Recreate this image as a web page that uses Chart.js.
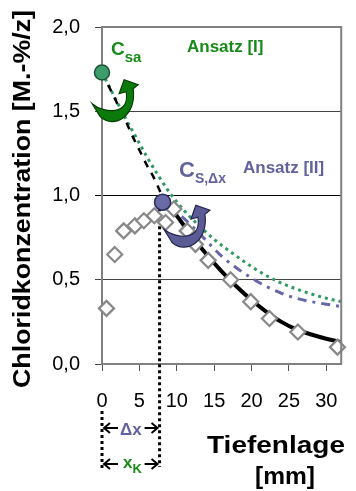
<!DOCTYPE html>
<html>
<head>
<meta charset="utf-8">
<script src="https://cdn.jsdelivr.net/npm/chart.js@4.4.0/dist/chart.umd.min.js"></script>
<style>
  html, body { margin: 0; padding: 0; background: #fff; }
</style>
</head>
<body>
<canvas id="chart" width="356" height="491"></canvas>
<script>
// Messwerte (Rauten)
const depthMeasured = [0.6, 1.7, 2.9, 4.4, 5.6, 7.0, 8.5, 9.6, 11.4, 12.5, 14.2, 17.2, 19.9, 22.4, 26.2, 31.5];
const chlorideMeasured = [0.33, 0.65, 0.79, 0.82, 0.85, 0.88, 0.84, 0.92, 0.79, 0.71, 0.615, 0.50, 0.37, 0.27, 0.19, 0.10];

// Regressionskurve, gestrichelter Teil (0 bis dx) und durchgezogener Teil
const fitDashedX = [0, 1, 2, 3, 4, 5, 6, 7, 8.1];
const fitDashedY = [1.73, 1.64, 1.55, 1.46, 1.36, 1.27, 1.18, 1.10, 0.99];
const fitSolidX = [8.1, 10, 12, 14, 16, 18, 20, 22, 24, 26, 28, 30, 32];
const fitSolidY = [0.99, 0.88, 0.76, 0.65, 0.55, 0.46, 0.38, 0.31, 0.25, 0.205, 0.175, 0.15, 0.13];

// Ansatz [I] (gruen gepunktet)
const ansatz1X = [0, 1.5, 3, 4.5, 6, 7.5, 9, 11, 13, 15, 18, 21, 24, 27, 30, 32];
const ansatz1Y = [1.73, 1.60, 1.47, 1.35, 1.23, 1.12, 1.02, 0.91, 0.82, 0.74, 0.64, 0.55, 0.48, 0.43, 0.39, 0.37];

// Ansatz [II] (violett strichpunktiert)
const ansatz2X = [8.1, 10, 12, 14, 16, 18, 20, 22, 24, 26, 28, 30, 32];
const ansatz2Y = [0.96, 0.90, 0.82, 0.73, 0.64, 0.57, 0.51, 0.46, 0.42, 0.39, 0.37, 0.355, 0.34];

// Randwerte
const csaPoint = [0, 1.73];
const csdxPoint = [8.1, 0.96];
const dxDepth = 7.7;

const yTicks = [0, 0.5, 1.0, 1.5, 2.0];
const xTicks = [0, 5, 10, 15, 20, 25, 30];

const GREEN = '#178a17';
const PURPLE = '#62629e';
const FONT = "'Liberation Sans', Arial, sans-serif";

function toXY(xs, ys) {
    return xs.map((x, i) => ({ x: x, y: ys[i] }));
}

function stretchText(ctx, text, x, y, width, font, color, angle) {
    ctx.save();
    ctx.translate(x, y);
    ctx.rotate(angle || 0);
    ctx.font = font;
    const w = ctx.measureText(text).width;
    ctx.scale(width / w, 1);
    ctx.fillStyle = color;
    ctx.textAlign = 'center';
    ctx.textBaseline = 'alphabetic';
    ctx.fillText(text, 0, 0);
    ctx.restore();
}

function subText(ctx, main, sub, x, y, mainSize, subSize, drop, color) {
    ctx.save();
    ctx.fillStyle = color;
    ctx.textAlign = 'left';
    ctx.textBaseline = 'alphabetic';
    ctx.font = 'bold ' + mainSize + 'px ' + FONT;
    ctx.fillText(main, x, y);
    const w = ctx.measureText(main).width;
    ctx.font = 'bold ' + subSize + 'px ' + FONT;
    ctx.fillText(sub, x + w, y + drop);
    ctx.restore();
}

function curvedArrow(ctx, tx, ty, fill, edge) {
    ctx.save();
    ctx.translate(tx, ty);
    ctx.beginPath();
    ctx.moveTo(0, 0);
    ctx.bezierCurveTo(12, 10, 38, 12, 34, -12);
    ctx.lineTo(27, -10);
    ctx.lineTo(32, -24);
    ctx.lineTo(46, -19);
    ctx.lineTo(41, -15);
    ctx.bezierCurveTo(45, 12, 22, 26, 8, 13);
    ctx.closePath();
    ctx.fillStyle = fill;
    ctx.fill();
    ctx.strokeStyle = edge;
    ctx.lineWidth = 1.2;
    ctx.stroke();
    ctx.restore();
}

function dimArrow(ctx, y, x0, x1) {
    ctx.save();
    ctx.strokeStyle = '#000';
    ctx.lineWidth = 2;
    ctx.beginPath();
    ctx.moveTo(x0 + 2, y); ctx.lineTo(x0 + 16, y);
    ctx.moveTo(x0 + 8, y - 5); ctx.lineTo(x0 + 2, y); ctx.lineTo(x0 + 8, y + 5);
    ctx.moveTo(x1 - 2, y); ctx.lineTo(x1 - 15, y);
    ctx.moveTo(x1 - 8, y - 5); ctx.lineTo(x1 - 2, y); ctx.lineTo(x1 - 8, y + 5);
    ctx.stroke();
    ctx.restore();
}

const decorations = {
    id: 'decorations',
    beforeDatasetsDraw(chart) {
        const ctx = chart.ctx;
        const xs = chart.scales.x, ys = chart.scales.y;
        const x0 = xs.getPixelForValue(0);
        const x1 = xs.getPixelForValue(dxDepth);
        ctx.save();
        ctx.strokeStyle = '#000';
        ctx.lineWidth = 3;
        ctx.setLineDash([3, 3]);
        ctx.beginPath();
        ctx.moveTo(x1, ys.getPixelForValue(csdxPoint[1]));
        ctx.lineTo(x1, 467);
        ctx.moveTo(x0, 411);
        ctx.lineTo(x0, 471);
        ctx.stroke();
        ctx.restore();
    },
    afterDatasetsDraw(chart) {
        const ctx = chart.ctx;
        const a = chart.chartArea;
        const xs = chart.scales.x, ys = chart.scales.y;

        // Rahmen oben und rechts
        ctx.save();
        ctx.strokeStyle = '#808080';
        ctx.lineWidth = 2;
        ctx.beginPath();
        ctx.moveTo(a.left, a.top);
        ctx.lineTo(a.right, a.top);
        ctx.lineTo(a.right, a.bottom);
        ctx.stroke();
        ctx.restore();

        // gebogene Pfeile
        curvedArrow(ctx, xs.getPixelForValue(-1.32), ys.getPixelForValue(1.545), '#0a7a0a', '#033d03');
        curvedArrow(ctx, xs.getPixelForValue(8.28), ys.getPixelForValue(0.80), '#5b5b96', '#25254d');

        // Beschriftungen im Diagramm
        subText(ctx, 'C', 'sa', 111, 55, 19, 15, 7, GREEN);
        ctx.save();
        ctx.font = 'bold 17px ' + FONT;
        ctx.fillStyle = GREEN;
        ctx.fillText('Ansatz [I]', 187, 52);
        ctx.fillStyle = PURPLE;
        ctx.fillText('Ansatz [II]', 243, 173);
        ctx.restore();
        subText(ctx, 'C', 'S,\u0394x', 179, 177, 22, 14, 6, PURPLE);

        // Achsentitel
        stretchText(ctx, 'Chloridkonzentration [M.-%/z]', 30, 199, 378, 'bold 23px ' + FONT, '#000', -Math.PI / 2);
        stretchText(ctx, 'Tiefenlage', 276, 453, 138, 'bold 24px ' + FONT, '#000');
        stretchText(ctx, '[mm]', 285, 484, 60, 'bold 24px ' + FONT, '#000');

        // Bemassung dx / xK
        const px0 = xs.getPixelForValue(0);
        const px1 = xs.getPixelForValue(dxDepth);
        dimArrow(ctx, 428, px0, px1);
        dimArrow(ctx, 464, px0, px1);
        ctx.save();
        ctx.font = 'bold 17px ' + FONT;
        ctx.fillStyle = PURPLE;
        ctx.textAlign = 'center';
        ctx.fillText('\u0394x', (px0 + px1) / 2, 435);
        ctx.restore();
        subText(ctx, 'x', 'K', 123, 468, 17, 13, 5, GREEN);
    }
};

new Chart(document.getElementById('chart'), {
    type: 'scatter',
    data: {
        datasets: [
            {
                data: [{ x: csaPoint[0], y: csaPoint[1] }],
                pointRadius: 7.5,
                backgroundColor: '#3c9c6c',
                borderColor: '#1c5236',
                borderWidth: 1.5,
                clip: false
            },
            {
                data: [{ x: csdxPoint[0], y: csdxPoint[1] }],
                pointRadius: 8,
                backgroundColor: '#6a6aa6',
                borderColor: '#2c2c5c',
                borderWidth: 1.5,
                clip: false
            },
            {
                data: toXY(depthMeasured, chlorideMeasured),
                pointStyle: 'rectRot',
                pointRadius: 7.5,
                backgroundColor: '#ffffff',
                borderColor: '#888888',
                borderWidth: 2.2,
                clip: false
            },
            {
                data: toXY(fitSolidX, fitSolidY),
                showLine: true,
                pointRadius: 0,
                borderColor: '#000',
                borderWidth: 4,
                cubicInterpolationMode: 'monotone'
            },
            {
                data: toXY(fitDashedX, fitDashedY),
                showLine: true,
                pointRadius: 0,
                borderColor: '#000',
                borderWidth: 2.5,
                borderDash: [7, 7],
                cubicInterpolationMode: 'monotone'
            },
            {
                data: toXY(ansatz2X, ansatz2Y),
                showLine: true,
                pointRadius: 0,
                borderColor: '#6666aa',
                borderWidth: 3,
                borderDash: [9, 6, 3, 6],
                cubicInterpolationMode: 'monotone'
            },
            {
                data: toXY(ansatz1X, ansatz1Y),
                showLine: true,
                pointRadius: 0,
                borderColor: '#2e9a62',
                borderWidth: 3,
                borderDash: [3, 4],
                cubicInterpolationMode: 'monotone'
            }
        ]
    },
    options: {
        responsive: false,
        animation: false,
        devicePixelRatio: 1,
        layout: { padding: { left: 0, top: 20, right: 4, bottom: 0 } },
        plugins: { legend: { display: false }, tooltip: { enabled: false } },
        scales: {
            x: {
                type: 'linear',
                min: 0,
                max: 32,
                afterFit: s => { s.height = 127; },
                afterBuildTicks: s => { s.ticks = xTicks.map(v => ({ value: v })); },
                ticks: {
                    includeBounds: false,
                    padding: 18,
                    color: '#000',
                    font: { family: FONT, size: 20 }
                },
                grid: { drawOnChartArea: false, tickLength: 7, color: '#555', lineWidth: 1 },
                border: { color: '#808080', width: 2 }
            },
            y: {
                min: 0,
                max: 2,
                afterFit: s => { s.width = 102; },
                afterBuildTicks: s => { s.ticks = yTicks.map(v => ({ value: v })); },
                ticks: {
                    padding: 15,
                    color: '#000',
                    font: { family: FONT, size: 20 },
                    callback: v => v.toFixed(1).replace('.', ',')
                },
                grid: {
                    tickLength: 7,
                    color: ctx => (ctx.tick && ctx.tick.value === 1 ? '#000' : '#444'),
                    lineWidth: 1
                },
                border: { color: '#808080', width: 2 }
            }
        }
    },
    plugins: [decorations]
});
</script>
</body>
</html>
